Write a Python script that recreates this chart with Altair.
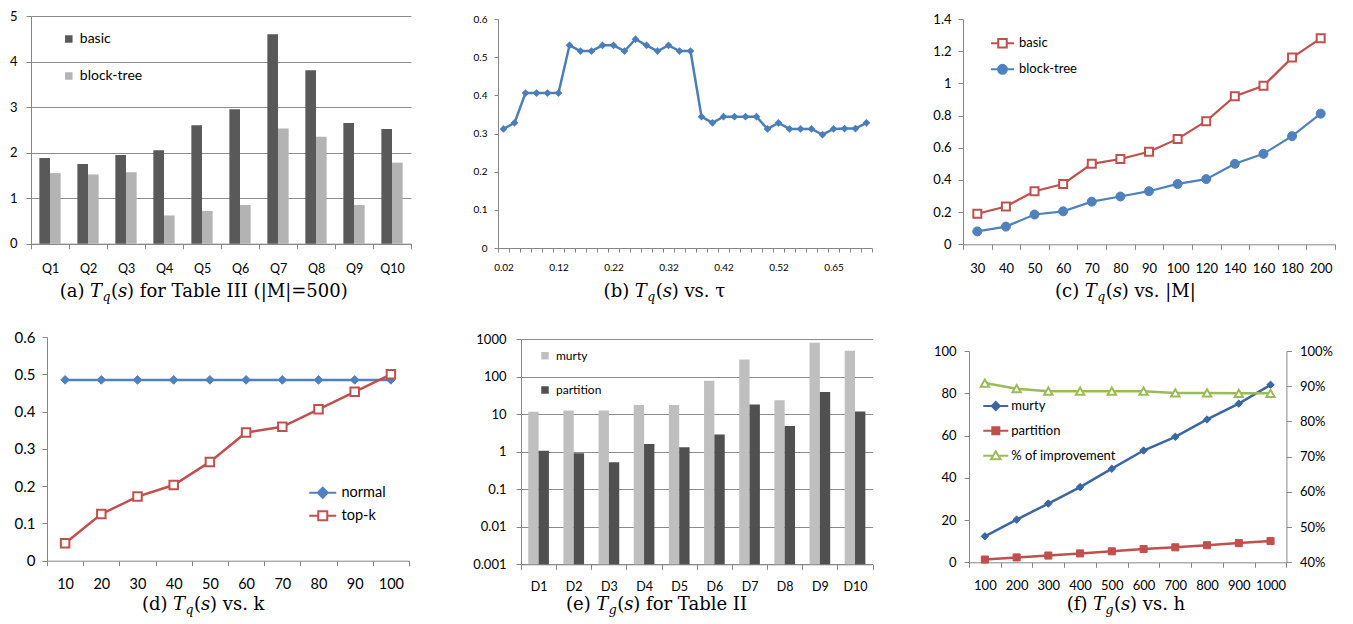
import json
import altair as alt
import pandas as pd

# ---------------- data ----------------
queries = ["Q1", "Q2", "Q3", "Q4", "Q5", "Q6", "Q7", "Q8", "Q9", "Q10"]
a_basic = [1.88, 1.75, 1.95, 2.05, 2.60, 2.95, 4.60, 3.81, 2.65, 2.52]
a_block = [1.55, 1.52, 1.57, 0.62, 0.72, 0.85, 2.53, 2.35, 0.85, 1.78]

taus = ["0.02", "0.04", "0.06", "0.08", "0.1", "0.12", "0.14", "0.16", "0.18", "0.2",
        "0.22", "0.24", "0.26", "0.28", "0.3", "0.32", "0.34", "0.36", "0.38", "0.4",
        "0.42", "0.44", "0.46", "0.48", "0.5", "0.52", "0.55", "0.57", "0.6", "0.62",
        "0.65", "0.67", "0.7", "0.72"]
tau_labels = ["0.02", "0.12", "0.22", "0.32", "0.42", "0.52", "0.65"]
b_tq = [0.312, 0.328, 0.406, 0.406, 0.406, 0.406, 0.531, 0.516, 0.516, 0.531,
        0.531, 0.516, 0.547, 0.531, 0.516, 0.531, 0.516, 0.516, 0.344, 0.328,
        0.344, 0.344, 0.344, 0.344, 0.312, 0.328, 0.312, 0.312, 0.312, 0.297,
        0.312, 0.313, 0.313, 0.328]

m_sizes = ["30", "40", "50", "60", "70", "80", "90", "100", "120", "140", "160", "180", "200"]
c_basic = [0.19, 0.235, 0.33, 0.375, 0.50, 0.53, 0.575, 0.655, 0.765, 0.92, 0.985, 1.16, 1.28]
c_block = [0.08, 0.11, 0.185, 0.205, 0.265, 0.297, 0.33, 0.375, 0.405, 0.50, 0.562, 0.672, 0.812]

k_vals = ["10", "20", "30", "40", "50", "60", "70", "80", "90", "100"]
d_normal = [0.485, 0.485, 0.485, 0.485, 0.485, 0.485, 0.485, 0.485, 0.485, 0.485]
d_topk = [0.047, 0.125, 0.172, 0.203, 0.265, 0.344, 0.359, 0.406, 0.453, 0.50]

datasets = ["D1", "D2", "D3", "D4", "D5", "D6", "D7", "D8", "D9", "D10"]
e_murty = [11.5, 12.5, 12.5, 17.5, 17.5, 77, 285, 23.5, 800, 485]
e_partition = [1.06, 0.90, 0.52, 1.6, 1.3, 2.85, 18.0, 4.85, 39.0, 11.8]

h_vals = ["100", "200", "300", "400", "500", "600", "700", "800", "900", "1000"]
f_murty = [12.3, 20.2, 27.8, 35.6, 44.3, 52.9, 59.4, 67.6, 75.1, 84.0]
f_partition = [1.3, 2.3, 3.2, 4.2, 5.2, 6.3, 7.1, 8.1, 9.1, 10.1]
f_improve = [0.909, 0.893, 0.886, 0.886, 0.886, 0.886, 0.881, 0.881, 0.880, 0.880]

# ---------------- styles ----------------
FONT = "Lato"
SERIF = "DejaVu Serif"
GRAY = "#868686"
BLUE = "#4F81BD"
RED = "#C0504D"
GREEN = "#9BBB59"
DBLUE = "#3A67A3"

one = pd.DataFrame({"k": [0]})
band0 = alt.Scale(paddingInner=0, paddingOuter=0)


def spacer(y1, y2):
    return alt.Chart(one).mark_rule(strokeOpacity=0, strokeWidth=0).encode(
        x=alt.value(0), y=alt.value(y1), y2=alt.value(y2))


def dummy():
    return alt.Chart(one).mark_rule(strokeOpacity=0, strokeWidth=0).encode(
        x=alt.value(0), y=alt.value(0), y2=alt.value(0)).properties(width=1, height=1)


def seg(text, x, y, align, size=18, style="normal"):
    return alt.Chart(one).mark_text(
        text=text, align=align, baseline="alphabetic", font=SERIF,
        fontSize=size, fontStyle=style, color="black").encode(
        x=alt.value(x), y=alt.value(y))


def caption(tag, sub, rest, X, Y):
    return [
        seg("(" + tag + ")", X - 17.5, Y, "right"),
        seg("T", X, Y, "right", style="italic"),
        seg(sub, X + 0.5, Y + 4, "left", size=12.5, style="italic"),
        seg("(", X + 9, Y, "left"),
        seg("s", X + 16, Y, "left", style="italic"),
        seg(")" + rest, X + 25, Y, "left"),
    ]


def yaxis(values, size, tick, pad, ext=None, fmt=None, grid=False, orient="left"):
    kw = dict(values=values, labelFontSize=size, tickSize=tick, labelPadding=pad,
              grid=grid, title=None, domainColor=GRAY, tickColor=GRAY,
              labelColor="black", labelFont=FONT, orient=orient, labelOverlap=False)
    if ext is not None:
        kw["minExtent"] = ext
    if fmt is not None:
        kw["format"] = fmt
    if grid:
        kw["gridColor"] = "#8C8C8C"
    return alt.Axis(**kw)


def xaxis(size, pad, tick=5, expr=None):
    kw = dict(labelFontSize=size, tickSize=tick, labelPadding=pad, tickBand="extent",
              labelAngle=0, title=None, domainColor=GRAY, tickColor=GRAY,
              labelColor="black", labelFont=FONT, labelOverlap=False, grid=False)
    if expr is not None:
        kw["labelExpr"] = expr
    return alt.Axis(**kw)


def one_legend(x, y, size, offset, path, strokec):
    return alt.Legend(orient="none", legendX=x, legendY=y, title=None, symbolType=path,
                      symbolSize=100, symbolStrokeWidth=2, symbolStrokeColor=strokec,
                      labelFontSize=size, labelFont=FONT, labelColor="black",
                      labelOffset=offset, padding=0)


def box_legend(x, y, size, rowpad, offset):
    return alt.Legend(orient="none", legendX=x, legendY=y, title=None, symbolType="square",
                      symbolSize=56, symbolStrokeWidth=0, labelFontSize=size, labelFont=FONT,
                      labelColor="black", rowPadding=rowpad, labelOffset=offset, padding=0,
                      direction="vertical")


def series(df, xenc, yline, ypts, name, color, shape, size, fillc, lw, sw, leg):
    line = alt.Chart(df).mark_line(color=color, strokeWidth=lw).encode(x=xenc, y=yline)
    pts = alt.Chart(df).mark_point(filled=True, shape=shape, size=size, stroke=color,
                                   strokeWidth=sw, opacity=1).encode(
        x=xenc, y=ypts,
        fill=alt.Fill("s:N", scale=alt.Scale(domain=[name], range=[fillc]), legend=leg))
    return [line, pts]


# ---------------- (a) ----------------
dfa = pd.DataFrame({"q": queries * 2, "s": ["basic"] * 10 + ["block-tree"] * 10,
                    "v": a_basic + a_block})
bars_a = alt.Chart(dfa).mark_bar().encode(
    x=alt.X("q:N", sort=queries, scale=band0, axis=xaxis(12.5, 14)),
    xOffset=alt.XOffset("s:N", sort=["basic", "block-tree"],
                        scale=alt.Scale(paddingInner=0, paddingOuter=0.785)),
    y=alt.Y("v:Q", stack=None, scale=alt.Scale(domain=[0, 5]),
            axis=yaxis([0, 1, 2, 3, 4, 5], 13, 5, 9, ext=22, grid=True)),
    color=alt.Color("s:N", sort=["basic", "block-tree"],
                    scale=alt.Scale(domain=["basic", "block-tree"], range=["#595959", "#B3B3B3"]),
                    legend=box_legend(30.8, 16, 14, 23, 4)),
)
panel_a = alt.layer(bars_a, spacer(-7, 300),
                    *caption("a", "q", " for Table III (|M|=500)", 71, 280.7)
                    ).properties(width=380, height=227.7)

# ---------------- (b) ----------------
dfb = pd.DataFrame({"t": taus, "v": b_tq})
expr_b = "indexof(" + json.dumps(tau_labels) + ", datum.label) >= 0 ? datum.label : ''"
line_b = alt.Chart(dfb).mark_line(
    color="#4A7EBB", strokeWidth=2.5,
    point=alt.OverlayMarkDef(shape="diamond", size=60, filled=True, color="#4A7EBB", opacity=1)
).encode(
    x=alt.X("t:N", sort=taus, scale=alt.Scale(type="band", paddingInner=0, paddingOuter=0),
            axis=xaxis(10, 10, tick=4, expr=expr_b)),
    y=alt.Y("v:Q", scale=alt.Scale(domain=[0, 0.6]),
            axis=yaxis([0, 0.1, 0.2, 0.3, 0.4, 0.5, 0.6], 10, 4, 7, ext=86, fmt=".1~f")),
)
panel_b = alt.layer(line_b, spacer(-10, 300),
                    *caption("b", "q", " vs. τ", 148.7, 277.7)
                    ).properties(width=374, height=229)

# ---------------- (c) ----------------
dfc1 = pd.DataFrame({"m": m_sizes, "s": ["basic"] * 13, "v": c_basic})
dfc2 = pd.DataFrame({"m": m_sizes, "s": ["block-tree"] * 13, "v": c_block})
xc = alt.X("m:N", sort=m_sizes, scale=alt.Scale(type="band", paddingInner=0, paddingOuter=0),
           axis=xaxis(13, 13))
yc = alt.Y("v:Q", scale=alt.Scale(domain=[0, 1.4]),
           axis=yaxis([0, 0.2, 0.4, 0.6, 0.8, 1.0, 1.2, 1.4], 13, 5, 7, ext=90, fmt=".1~f"))
PATH_SQ_C = "M-2.3,0H-0.85M0.85,0H2.3M-0.85,-0.85H0.85V0.85H-0.85Z"
PATH_CI_C = "M-2.3,0H2.3M0.9,0A0.9,0.9,0,1,1,-0.9,0A0.9,0.9,0,1,1,0.9,0Z"
layers_c = (series(dfc1, xc, yc, yc, "basic", RED, "square", 64, "white", 2.2, 2,
                   one_legend(33, 17.8, 13, 10, PATH_SQ_C, RED))
            + series(dfc2, xc, yc, yc, "block-tree", BLUE, "circle", 81, BLUE, 2.2, 1,
                     one_legend(33, 43.8, 13, 10, PATH_CI_C, BLUE)))
panel_c = alt.layer(*layers_c, spacer(-10, 300),
                    *caption("c", "q", " vs. |M|", 133.7, 277.7)
                    ).resolve_scale(fill="independent").properties(width=372, height=225.3)

# ---------------- (d) ----------------
dfd1 = pd.DataFrame({"k": k_vals, "s": ["normal"] * 10, "v": d_normal})
dfd2 = pd.DataFrame({"k": k_vals, "s": ["top-k"] * 10, "v": d_topk})
xd = alt.X("k:N", sort=k_vals, scale=alt.Scale(type="band", paddingInner=0, paddingOuter=0),
           axis=xaxis(14.5, 12))
yd = alt.Y("v:Q", scale=alt.Scale(domain=[0, 0.6]),
           axis=yaxis([0, 0.1, 0.2, 0.3, 0.4, 0.5, 0.6], 15, 5, 7, ext=38, fmt=".1~f"))
PATH_DI_D = "M-2.7,0H2.7M0,-1L1,0L0,1L-1,0Z"
PATH_SQ_D = "M-2.7,0H-0.9M0.9,0H2.7M-0.9,-0.9H0.9V0.9H-0.9Z"
layers_d = (series(dfd1, xd, yd, yd, "normal", BLUE, "diamond", 75, BLUE, 2.5, 1,
                   one_legend(268.5, 148.5, 14.5, 11.5, PATH_DI_D, BLUE))
            + series(dfd2, xd, yd, yd, "top-k", RED, "square", 72, "white", 2.5, 2,
                     one_legend(268.5, 171.5, 14.5, 11.5, PATH_SQ_D, RED)))
panel_d = alt.layer(*layers_d, spacer(-21, 0),
                    *caption("d", "q", " vs. k", 138, 273)
                    ).resolve_scale(fill="independent").properties(width=362, height=223.7)

# ---------------- (e) ----------------
dfe = pd.DataFrame({"d": datasets * 2, "s": ["murty"] * 10 + ["partition"] * 10,
                    "v": e_murty + e_partition})
bars_e = alt.Chart(dfe).mark_bar().encode(
    x=alt.X("d:N", sort=datasets, scale=band0, axis=xaxis(12.5, 11)),
    xOffset=alt.XOffset("s:N", sort=["murty", "partition"],
                        scale=alt.Scale(paddingInner=0, paddingOuter=0.70)),
    y=alt.Y("v:Q", stack=None, scale=alt.Scale(type="log", domain=[0.001, 1000]),
            axis=yaxis([0.001, 0.01, 0.1, 1, 10, 100, 1000], 13, 5, 10, ext=93,
                       fmt="~g", grid=True)),
    color=alt.Color("s:N", sort=["murty", "partition"],
                    scale=alt.Scale(domain=["murty", "partition"], range=["#BFBFBF", "#505050"]),
                    legend=box_legend(18, 10.7, 12, 22.3, 5)),
)
panel_e = alt.layer(bars_e, spacer(-20, 0),
                    *caption("e", "g", " for Table II", 87.3, 271)
                    ).properties(width=351.6, height=225.3)

# ---------------- (f) ----------------
dff1 = pd.DataFrame({"h": h_vals, "s": ["murty"] * 10, "v": f_murty})
dff2 = pd.DataFrame({"h": h_vals, "s": ["partition"] * 10, "v": f_partition})
dff3 = pd.DataFrame({"h": h_vals, "s": ["% of improvement"] * 10, "v": f_improve})
xf = alt.X("h:N", sort=h_vals, scale=alt.Scale(type="band", paddingInner=0, paddingOuter=0),
           axis=xaxis(13, 12))
yl_axis = alt.Y("v:Q", scale=alt.Scale(domain=[0, 100]),
                axis=yaxis([0, 20, 40, 60, 80, 100], 13, 5, 8, ext=73))
yl = alt.Y("v:Q", scale=alt.Scale(domain=[0, 100]), axis=None)
yr_axis = alt.Y("v:Q", scale=alt.Scale(domain=[0.4, 1.0]),
                axis=yaxis([0.4, 0.5, 0.6, 0.7, 0.8, 0.9, 1.0], 13, 5, 8, fmt=".0%",
                           orient="right"))
yr = alt.Y("v:Q", scale=alt.Scale(domain=[0.4, 1.0]), axis=None)
PATH_DI_F = "M-2.5,0H2.5M0,-0.8L0.8,0L0,0.8L-0.8,0Z"
PATH_SQ_F = "M-2.5,0H2.5M-0.7,-0.7H0.7V0.7H-0.7Z"
PATH_TR_F = "M-2.5,0H-0.55M0.55,0H2.5M0,-0.9L0.95,0.7L-0.95,0.7Z"
layers_f = (series(dff1, xf, yl_axis, yl, "murty", DBLUE, "diamond", 55, DBLUE, 2.5, 1,
                   one_legend(20.3, 48.5, 13, 9, PATH_DI_F, DBLUE))
            + series(dff2, xf, yl, yl, "partition", RED, "square", 50, RED, 2.5, 1,
                     one_legend(20.3, 73.2, 13, 9, PATH_SQ_F, RED))
            + series(dff3, xf, yr_axis, yr, "% of improvement", GREEN, "triangle-up", 70,
                     "white", 2.5, 2, one_legend(20.3, 98.2, 13, 9, PATH_TR_F, GREEN)))
panel_f = alt.layer(*layers_f, spacer(-32, 0),
                    *caption("f", "g", " vs. h", 136, 259)
                    ).resolve_scale(y="independent", fill="independent"
                                    ).properties(width=317.4, height=211.3)

# ---------------- layout ----------------
indep = dict(x="independent", y="independent", color="independent", fill="independent",
             xOffset="independent")
chart = alt.concat(
    dummy(), dummy(), dummy(), dummy(),
    dummy(), panel_a, panel_b, panel_c,
    dummy(), panel_d, panel_e, panel_f,
    columns=4, spacing=0, align="none", bounds="full",
).resolve_scale(**indep).properties(
    padding=0
).configure_view(stroke=None).configure_axis(labelFont=FONT).configure_legend(labelFont=FONT)

chart.save("out.html", embed_options={"renderer": "svg", "actions": False})
